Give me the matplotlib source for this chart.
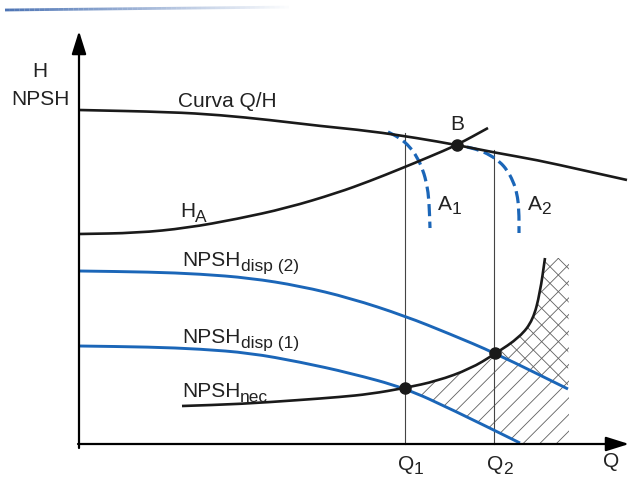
import matplotlib
matplotlib.use("Agg")
import matplotlib.pyplot as plt
from matplotlib.collections import LineCollection
from matplotlib.path import Path
from matplotlib.patches import PathPatch
import numpy as np

plt.rcParams['font.family'] = ['Liberation Sans', 'DejaVu Sans']
plt.rcParams['hatch.linewidth'] = 0.6

# ---- data (Q, H in drawing units; origin at the axes crossing) ----
qh_q = [0, 91, 141, 191, 241, 291, 338, 378, 418, 458, 503, 548]
qh_h = [334, 332, 329, 324, 318, 313, 306, 299, 291, 284, 274, 264]

ha_q = [0, 58, 108, 158, 208, 258, 291, 321, 350, 378, 409]
ha_h = [210, 211, 216, 225, 236, 251, 263, 275, 287, 299, 316]

a1_q = [309, 321, 331, 338, 344, 348, 350, 351]
a1_h = [312, 306, 297, 287, 274, 259, 244, 216]

a2_q = [388, 400, 411, 421, 428, 434, 438, 440, 440]
a2_h = [297, 294, 289, 282, 274, 263, 251, 234, 211]

disp2_q = [0, 71, 121, 171, 221, 271, 326, 371, 416, 489]
disp2_h = [173, 172, 170, 166, 158, 146, 128, 110, 91, 55]

disp1_q = [0, 71, 121, 171, 221, 271, 326, 374, 441]
disp1_h = [98, 97, 95, 91, 82, 71, 56, 34, 1]

nec_q = [103, 162, 221, 261, 291, 326, 358, 391, 416, 441, 454, 461, 466]
nec_h = [38, 40, 44, 47, 50, 56, 63, 75, 90, 107, 124, 151, 186]

points_q = [378, 326, 416]   # B, Q1-point, Q2-point
points_h = [299, 56, 91]

q_marks = [326, 415]          # Q1, Q2
q_marks_top = [311, 294]

hatch_right = 490
hatch_top = 186

BLACK = '#1a1a1a'
BLUE = '#1b66b8'


def smooth_path(xs, ys):
    pts = np.column_stack([xs, ys]).astype(float)
    if len(pts) < 3:
        return Path(pts)
    mids = (pts[:-1] + pts[1:]) / 2
    verts = [pts[0], mids[0]]
    codes = [Path.MOVETO, Path.LINETO]
    for i in range(1, len(pts) - 1):
        verts += [pts[i], mids[i]]
        codes += [Path.CURVE3, Path.CURVE3]
    verts.append(pts[-1])
    codes.append(Path.LINETO)
    return Path(verts, codes)


def flat(path):
    return path.to_polygons(closed_only=False)[0]


fig = plt.figure(figsize=(6.31, 4.79), dpi=100)
ax = fig.add_axes([0, 0, 1, 1])
ax.set_xlim(-79, 552)
ax.set_ylim(-35, 444)
ax.axis('off')

p_qh = smooth_path(qh_q, qh_h)
p_ha = smooth_path(ha_q, ha_h)
p_a1 = smooth_path(a1_q, a1_h)
p_a2 = smooth_path(a2_q, a2_h)
p_d2 = smooth_path(disp2_q, disp2_h)
p_d1 = smooth_path(disp1_q, disp1_h)
p_nec = smooth_path(nec_q, nec_h)

# hatched cavitation zones
nec_f = flat(p_nec)
d1_f = flat(p_d1)
d2_f = flat(p_d2)
n1 = nec_f[nec_f[:, 0] >= q_marks[0]]
b1 = d1_f[d1_f[:, 0] >= q_marks[0]][::-1]
poly1 = np.vstack([n1, [[hatch_right, hatch_top], [hatch_right, 0], [b1[0, 0], 0]], b1])
ax.fill(poly1[:, 0], poly1[:, 1], facecolor='none', edgecolor='#606060', hatch='//', lw=0, zorder=1)
n2 = nec_f[nec_f[:, 0] >= q_marks[1]]
b2 = d2_f[d2_f[:, 0] >= q_marks[1]][::-1]
poly2 = np.vstack([n2, [[hatch_right, hatch_top]], b2])
ax.fill(poly2[:, 0], poly2[:, 1], facecolor='none', edgecolor='#606060', hatch='\\\\', lw=0, zorder=1)

# vertical guides
for q, top in zip(q_marks, q_marks_top):
    ax.plot([q, q], [0, top], color='#444444', lw=0.8, zorder=2)

# curves
for p, c, lw, z in [(p_qh, BLACK, 1.9, 4), (p_ha, BLACK, 1.9, 4), (p_nec, BLACK, 1.9, 4),
                    (p_d2, BLUE, 2.1, 3), (p_d1, BLUE, 2.1, 3)]:
    ax.add_patch(PathPatch(p, fill=False, edgecolor=c, lw=lw, capstyle='butt',
                           joinstyle='round', zorder=z))
for p in (p_a1, p_a2):
    ax.add_patch(PathPatch(p, fill=False, edgecolor=BLUE, lw=2.3, linestyle=(0, (3.8, 1.7)),
                           capstyle='butt', zorder=3))
ax.plot(points_q, points_h, 'o', color=BLACK, ms=8, zorder=5)

# axes with arrows
ap = dict(arrowstyle='-|>,head_length=0.7,head_width=0.22', lw=1.6, color='k',
          shrinkA=0, shrinkB=0, mutation_scale=20)
ax.annotate('', xy=(0, 413), xytext=(0, -4), arrowprops=ap, zorder=6)
ax.annotate('', xy=(550, 0), xytext=(-1, 0), arrowprops=ap, zorder=6)

# decorative top rule (scan border)
bx = np.linspace(-74, 215, 60)
by = np.linspace(434, 437, 60)
segs = [[(bx[i], by[i]), (bx[i + 1], by[i + 1])] for i in range(len(bx) - 1)]
alphas = np.linspace(0.9, 0.0, len(segs))
cols = [(0.23, 0.40, 0.68, a) for a in alphas]
ax.add_collection(LineCollection(segs, colors=cols, linewidths=2.0))

# labels
FS = 15
SFS = 12.5
TC = '#222222'


def label(x, y, main, sub=None, sx=None, sy=None, ha='left'):
    ax.text(x, y, main, fontsize=FS, ha=ha, va='baseline', color=TC, zorder=7)
    if sub is not None:
        ax.text(sx, sy, sub, fontsize=SFS, ha='left', va='baseline', color=TC, zorder=7)


label(-39, 367, 'H', ha='center')
label(-39, 339, 'NPSH', ha='center')
label(99, 337, 'Curva Q/H')
label(378, 314, 'B', ha='center')
label(359, 234, 'A', '1', 373, 230)
label(449, 234, 'A', '2', 462, 230)
label(101, 227, 'H', 'A', 116, 222)
label(103, 178, 'NPSH', 'disp (2)', 162, 173)
label(103, 101, 'NPSH', 'disp (1)', 162, 96)
label(103, 47, 'NPSH', 'nec', 161, 42)
label(319, -26, 'Q', '1', 335, -30)
label(408, -26, 'Q', '2', 424, -30)
label(524, -23, 'Q')

fig.savefig('out.png', dpi=100, facecolor='white')
